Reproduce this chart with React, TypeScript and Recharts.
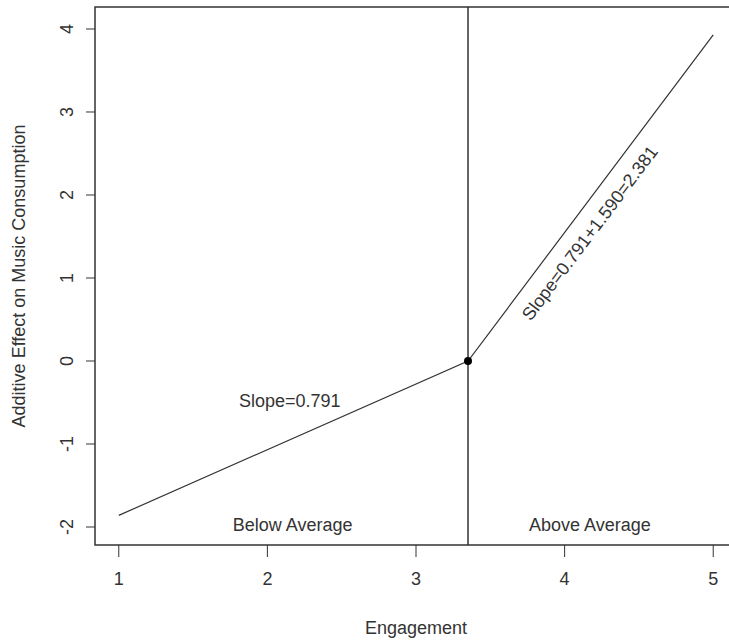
import { LineChart, Line, XAxis, YAxis, ReferenceLine, ReferenceDot, ReferenceArea } from 'recharts';

// piecewise effect: slope 0.791 below the mean, 0.791+1.590 above it
const ENGAGEMENT = [1, 3.35, 5];
const EFFECT = [-1.86, 0, 3.93];
const X_TICKS = [1, 2, 3, 4, 5];
const Y_TICKS = [-2, -1, 0, 1, 2, 3, 4];
const BREAK_X = 3.35;

const data = ENGAGEMENT.map((x, i) => ({ x, effect: EFFECT[i] }));

const FONT = '"Liberation Sans", Arial, sans-serif';
const INK = '#333';
const X_DOMAIN: [number, number] = [0.84, 5.16];
const Y_DOMAIN: [number, number] = [-2.217, 4.265];

const XTick = ({ x, y, payload }: any) => (
  <text x={x} y={y} dy={26} textAnchor="middle" fontSize={18} fontFamily={FONT} fill={INK}>
    {payload.value}
  </text>
);

const YTick = ({ x, y, payload }: any) => (
  <text
    x={x - 11}
    y={y}
    textAnchor="middle"
    transform={`rotate(-90 ${x - 11} ${y})`}
    fontSize={18}
    fontFamily={FONT}
    fill={INK}
  >
    {payload.value}
  </text>
);

const note = (value: string, angle = 0) => (props: any) => {
  const vb = props.viewBox;
  const cx = vb.x + vb.width / 2;
  const cy = vb.y + vb.height / 2;
  return (
    <text
      x={cx}
      y={cy}
      dy={6}
      textAnchor="middle"
      transform={angle ? `rotate(${angle} ${cx} ${cy})` : undefined}
      fontSize={18}
      fontFamily={FONT}
      fill={INK}
    >
      {value}
    </text>
  );
};

export default function App() {
  return (
    <div style={{ position: 'absolute', left: 0, top: 0, width: 729, height: 641, overflow: 'hidden', background: '#fff' }}>
      <LineChart width={740} height={641} data={data} margin={{ top: 7, right: 3, bottom: 0, left: 0 }}>
        <XAxis
          dataKey="x"
          type="number"
          domain={X_DOMAIN}
          ticks={X_TICKS}
          allowDataOverflow
          axisLine={false}
          tickSize={12}
          tickLine={{ stroke: INK }}
          tick={<XTick />}
          height={96}
          label={(p: any) => (
            <text
              x={p.viewBox.x + p.viewBox.width / 2}
              y={p.viewBox.y + 89}
              textAnchor="middle"
              fontSize={18}
              fontFamily={FONT}
              fill={INK}
            >
              Engagement
            </text>
          )}
        />
        <YAxis
          type="number"
          domain={Y_DOMAIN}
          ticks={Y_TICKS}
          allowDataOverflow
          axisLine={false}
          tickSize={9}
          tickLine={{ stroke: INK }}
          tick={<YTick />}
          width={95}
          label={(p: any) => {
            const cy = p.viewBox.y + p.viewBox.height / 2;
            return (
              <text
                x={25}
                y={cy}
                textAnchor="middle"
                transform={`rotate(-90 25 ${cy})`}
                fontSize={18}
                fontFamily={FONT}
                fill={INK}
              >
                Additive Effect on Music Consumption
              </text>
            );
          }}
        />
        <ReferenceArea
          x1={X_DOMAIN[0]}
          x2={X_DOMAIN[1]}
          y1={Y_DOMAIN[0]}
          y2={Y_DOMAIN[1]}
          fill="none"
          fillOpacity={0}
          stroke={INK}
          strokeWidth={1.5}
        />
        <ReferenceLine x={BREAK_X} stroke={INK} strokeWidth={1.5} />
        <Line
          dataKey="effect"
          stroke={INK}
          strokeWidth={1.2}
          dot={false}
          activeDot={false}
          isAnimationActive={false}
        />
        <ReferenceDot x={BREAK_X} y={0} r={4} fill="#000" stroke="none" />
        <ReferenceDot x={2.15} y={-0.48} r={0} stroke="none" label={note('Slope=0.791')} />
        <ReferenceDot x={2.17} y={-1.98} r={0} stroke="none" label={note('Below Average')} />
        <ReferenceDot x={4.17} y={-1.98} r={0} stroke="none" label={note('Above Average')} />
        <ReferenceDot x={4.17} y={1.54} r={0} stroke="none" label={note('Slope=0.791+1.590=2.381', -53)} />
      </LineChart>
    </div>
  );
}
